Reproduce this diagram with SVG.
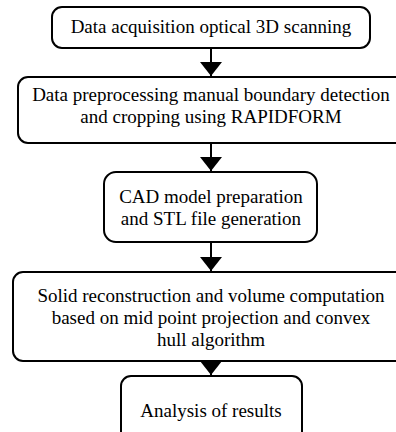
<svg xmlns="http://www.w3.org/2000/svg" width="396" height="432" viewBox="0 0 396 432">
<style>
.box{fill:#fff;stroke:#000;stroke-width:2}
.t{font-family:'Liberation Serif','Times New Roman',serif;font-size:19px;fill:#000;text-anchor:middle}
.c{stroke:#000;stroke-width:2;fill:none}
</style>
<defs>
<marker id="ah" markerWidth="22" markerHeight="14" refX="11" refY="14" orient="0" markerUnits="userSpaceOnUse">
<path d="M0,0 L22,0 L11,14 Z" fill="#000"/>
</marker>
</defs>
<rect width="396" height="432" fill="#fff"/>
<g id="connectors">
<path class="c" d="M211,48 L211,76" marker-end="url(#ah)"/>
<path class="c" d="M211,143 L211,171" marker-end="url(#ah)"/>
<path class="c" d="M211,242 L211,271" marker-end="url(#ah)"/>
<path class="c" d="M211,361 L211,375" marker-end="url(#ah)"/>
</g>
<g id="n1">
<rect class="box" x="52" y="7" width="318" height="41" rx="10"/>
<text class="t" x="211" y="33">Data acquisition optical 3D scanning</text>
</g>
<g id="n2">
<rect class="box" x="18" y="77" width="400" height="66" rx="10"/>
<text class="t" x="211" y="101">Data preprocessing manual boundary detection</text>
<text class="t" x="211" y="123">and cropping using RAPIDFORM</text>
</g>
<g id="n3">
<rect class="box" x="104" y="172" width="213" height="70" rx="12"/>
<text class="t" x="211" y="203">CAD model preparation</text>
<text class="t" x="211" y="225">and STL file generation</text>
</g>
<g id="n4">
<rect class="box" x="13" y="272" width="400" height="89" rx="10"/>
<text class="t" x="211" y="302">Solid reconstruction and volume computation</text>
<text class="t" x="211" y="324">based on mid point projection and convex</text>
<text class="t" x="211" y="346">hull algorithm</text>
</g>
<g id="n5">
<rect class="box" x="121" y="376" width="181" height="70" rx="10"/>
<text class="t" x="211" y="417">Analysis of results</text>
</g>
</svg>
